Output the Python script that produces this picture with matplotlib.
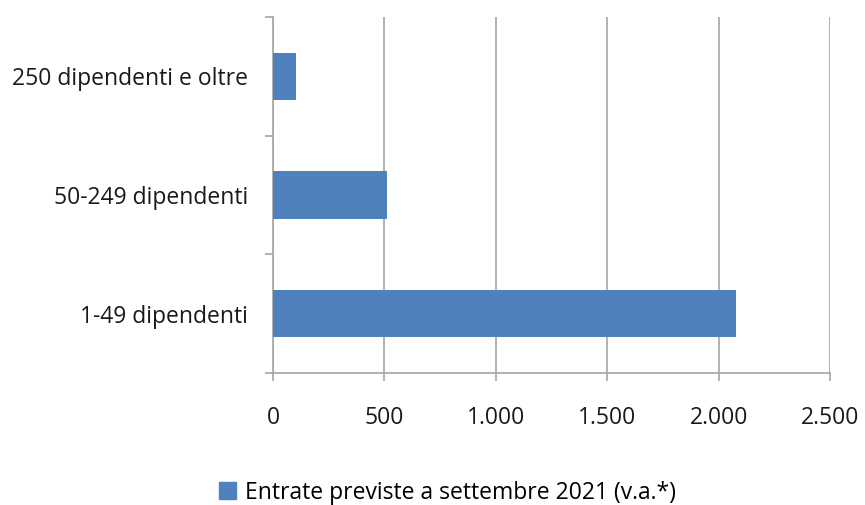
import numpy as np
import matplotlib.pyplot as plt
from matplotlib.patches import Patch

# dati
categorie = ["1-49 dipendenti", "50-249 dipendenti", "250 dipendenti e oltre"]
valori = [2078, 510, 105]
tick_x = [0, 500, 1000, 1500, 2000, 2500]
etichette_x = ["0", "500", "1.000", "1.500", "2.000", "2.500"]
nome_serie = "Entrate previste a settembre 2021 (v.a.*)"

plt.rcParams['font.family'] = ['Open Sans', 'DejaVu Sans']

fig = plt.figure(figsize=(8.65, 5.05), dpi=100)
ax = fig.add_axes([0.3156, 0.2614, 0.6439, 0.7049])

pos = np.arange(len(categorie))
ax.barh(pos, valori, height=0.4, color='#4F81BD', zorder=3)

ax.set_xlim(0, 2500)
ax.set_ylim(-0.5, len(categorie) - 0.5)
ax.set_xticks(tick_x)
ax.set_xticklabels(etichette_x, fontsize=16.5, color='#1a1a1a')
ax.set_yticks(pos)
ax.set_yticklabels(categorie, fontsize=16.5, color='#1a1a1a')
ax.set_yticks(np.arange(len(categorie) + 1) - 0.5, minor=True)

ax.grid(axis='x', color='#a6a6a6', linewidth=1.2, zorder=0)
for s in ['top', 'right']:
    ax.spines[s].set_visible(False)
for s in ['left', 'bottom']:
    ax.spines[s].set_color('#a6a6a6')
    ax.spines[s].set_linewidth(1.2)

ax.tick_params(axis='y', which='major', length=0, pad=18)
ax.tick_params(axis='y', which='minor', length=6, color='#a6a6a6', width=1.2)
ax.tick_params(axis='x', length=6, color='#a6a6a6', width=1.2, pad=18)

fig.legend(handles=[Patch(color='#4F81BD', label=nome_serie)],
           loc='center', bbox_to_anchor=(0.517, 0.024), frameon=False,
           fontsize=16.5, handlelength=0.75, handleheight=0.75, handletextpad=0.4)

fig.savefig('out.png', dpi=100)
